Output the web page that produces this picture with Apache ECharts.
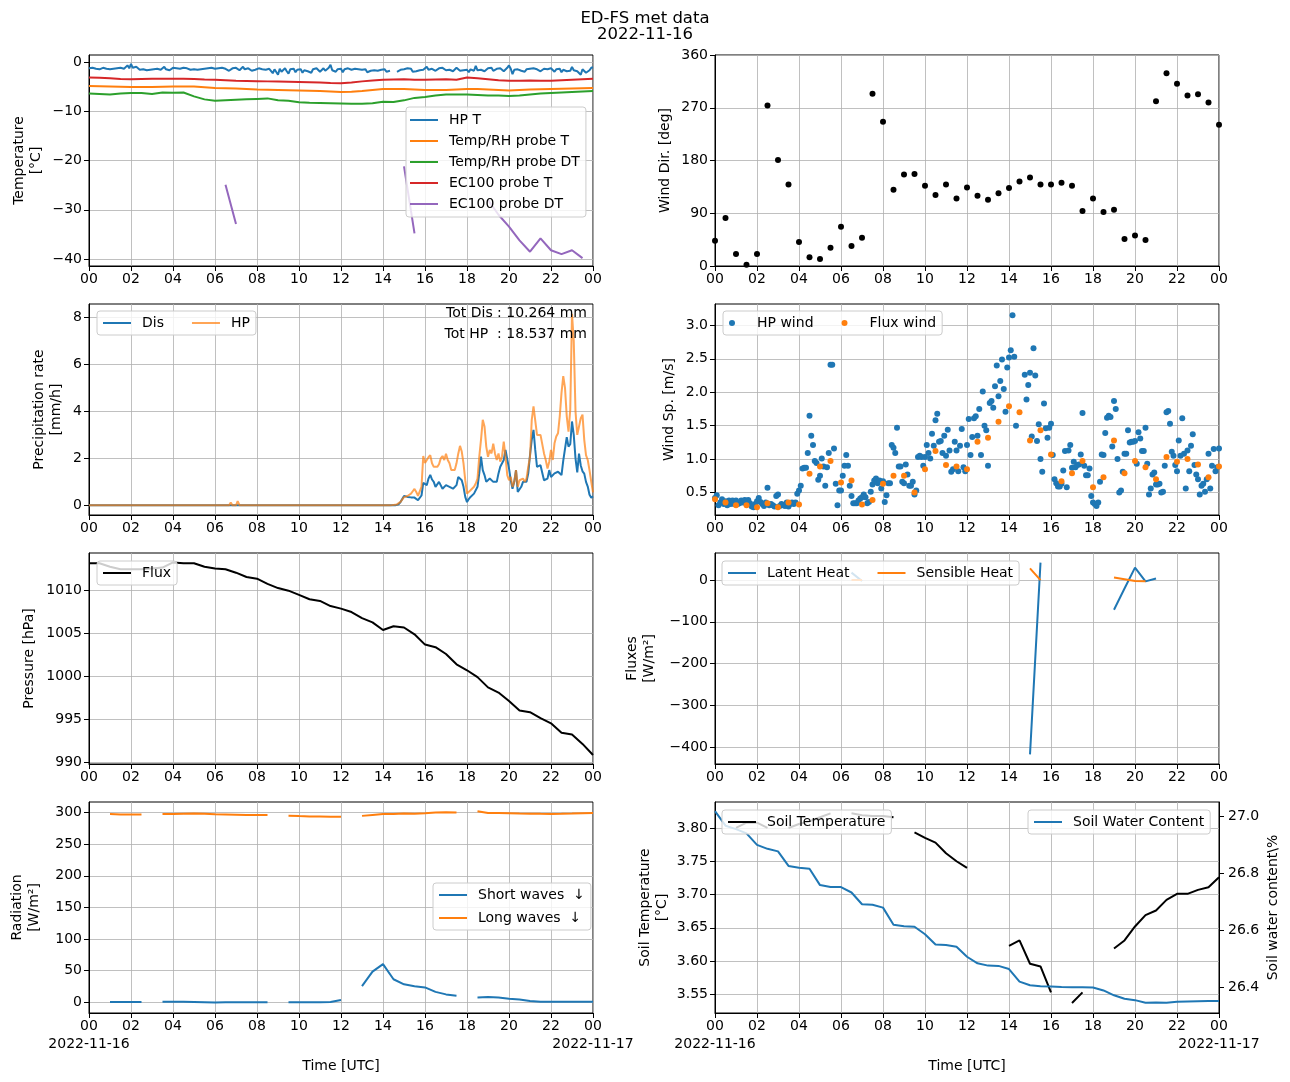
<!DOCTYPE html>
<html>
<head>
<meta charset="utf-8">
<script src="https://cdn.jsdelivr.net/npm/echarts@6/dist/echarts.min.js"></script>
<style>
  html, body { margin: 0; padding: 0; background: #fff; }
  #chart { width: 1290px; height: 1082px; }
</style>
</head>
<body>
<div id="chart"></div>
<script>
// ---- data (half-hourly unless noted) ----
const dayStart = '2022-11-16';
const dayEnd = '2022-11-17';

// HP temperature, 5-minute values (one row per hour)
const hpTemp = [
  -1.3,-1.5,-1.2,-1.6,-1.4,-1.1,-1.5,-1.3,-1.2,-1.6,-1.4,-1.2,
  -1.5,-1.1,-1.4,-1.0,-1.3,-1.6,-1.2,-0.9,-1.4,-1.1,-0.7,-1.3,
  -0.4,-1.2,-1.5,-1.0,-1.4,-1.6,-1.3,-1.5,-1.2,-1.7,-1.4,-1.6,
  -1.3,-1.5,-1.1,-1.4,-1.2,-1.6,-1.3,-1.0,-1.5,-1.3,-1.7,-1.4,
  -1.2,-1.5,-1.3,-0.9,-1.4,-1.6,-1.2,-1.5,-1.3,-1.1,-1.6,-1.4,
  -1.5,-1.2,-1.6,-1.3,-1.5,-1.1,-1.4,-1.7,-1.3,-1.5,-1.2,-1.6,
  -1.4,-1.7,-1.3,-1.5,-1.2,-1.6,-1.4,-1.3,-1.8,-1.5,-1.3,-1.6,
  -1.2,-1.5,-1.7,-1.4,-1.0,-1.5,-1.6,-1.3,-1.5,-1.8,-1.4,-1.6,
  -1.5,-1.3,-1.7,-1.5,-1.2,-1.6,-1.9,-1.4,-1.7,-2.3,-1.5,-1.8,
  -2.6,-1.4,-2.0,-1.6,-1.3,-1.9,-2.4,-1.5,-1.8,-1.4,-2.1,-1.6,
  -1.9,-1.5,-2.2,-1.7,-1.4,-1.9,-1.6,-2.2,-1.5,-1.8,-1.3,-1.7,
  -2.0,-1.6,-1.3,-1.8,-1.5,-1.2,-0.6,-1.7,-1.4,-2.0,-1.5,-1.8,
  -1.4,-2.1,-1.5,-1.8,-1.3,-0.9,-1.6,-1.9,-1.4,-1.7,-1.5,-1.9,
  -1.6,-1.9,-1.5,-2.1,-2.3,-1.8,-2.0,-1.7,-1.5,-1.8,-2.2,-1.6,
  -1.9,-1.5,-2.0,-1.6,-1.8,null,null,null,-2.0,-1.7,-1.6,-1.9,
  -1.5,-1.8,-1.3,-1.7,-1.4,-2.0,-1.6,-1.9,-1.5,-1.7,-2.1,-1.6,
  -1.3,-1.0,-1.6,-2.0,-1.4,-1.2,-1.8,-1.5,-1.3,-1.6,-1.2,-1.5,
  -1.7,-1.4,-1.6,-1.3,-1.9,-1.5,-1.2,-1.6,-1.8,-1.4,-1.7,-1.3,
  -1.6,-2.1,-1.5,-1.2,-1.8,-0.8,-1.7,-1.3,-1.6,-1.4,-1.9,-1.5,
  -1.3,-1.6,-1.2,-1.8,-1.5,-1.4,-1.7,-1.3,-1.6,-1.9,-1.5,-1.2,
  -0.7,-1.4,-2.5,-1.6,-1.9,-1.5,-1.3,-1.8,-1.6,-2.0,-1.5,-1.7,
  -1.4,-1.8,-1.3,-1.7,-1.5,-1.2,-1.9,-1.6,-1.4,-1.8,-1.5,-1.7,
  -1.3,-1.6,-2.0,-1.5,-1.8,-1.4,-2.1,-1.6,-1.3,-1.9,-1.5,-1.8,
  -1.0,-1.7,-1.4,-1.9,-1.6,-2.6,-1.5,-1.8,-2.2,-2.5,-1.7,-1.2,
  -1.1
];
const rhProbeT = [
  -4.9,-4.95,-5.0,-5.05,-5.1,-5.1,-5.1,-5.05,-5.0,-5.0,
  -5.0,-5.15,-5.3,-5.35,-5.4,-5.5,-5.6,-5.65,-5.7,-5.75,
  -5.8,-5.85,-5.9,-6.0,-6.1,-6.05,-5.9,-5.7,-5.5,-5.5,
  -5.5,-5.6,-5.7,-5.7,-5.7,-5.6,-5.5,-5.5,-5.6,-5.7,
  -5.8,-5.7,-5.6,-5.55,-5.5,-5.45,-5.4,-5.35,-5.3
];
const rhProbeDT = [
  -6.4,-6.5,-6.6,-6.4,-6.3,-6.3,-6.5,-6.2,-6.25,-6.2,
  -7.0,-7.6,-7.9,-7.8,-7.7,-7.6,-7.5,-7.4,-7.8,-7.9,
  -8.2,-8.3,-8.35,-8.4,-8.45,-8.5,-8.5,-8.4,-8.1,-8.15,
  -7.8,-7.3,-7.1,-6.8,-6.6,-6.6,-6.6,-6.7,-6.8,-6.8,
  -6.9,-6.8,-6.6,-6.4,-6.3,-6.2,-6.1,-6.0,-5.9
];
const ec100T = [
  -3.15,-3.2,-3.3,-3.45,-3.5,-3.45,-3.4,-3.4,-3.4,-3.4,
  -3.45,-3.55,-3.6,-3.7,-3.8,-3.85,-3.9,-3.95,-4.0,-4.05,
  -4.1,-4.15,-4.2,-4.3,-4.35,-4.2,-3.95,-3.75,-3.6,-3.55,
  -3.5,-3.6,-3.6,-3.55,-3.5,-3.6,-3.15,-3.3,-3.5,-3.7,
  -3.8,-3.8,-3.75,-3.8,-3.8,-3.7,-3.6,-3.5,-3.4
];
const ec100DT = [
  null,null,null,null,null,null,null,null,null,null,
  null,null,null,-24.9,-32.9,null,null,null,null,null,
  null,null,null,null,null,null,null,null,null,null,
  -21.2,-34.8,null,null,null,null,null,null,-28.0,-31.0,
  -33.4,-36.2,-38.5,-35.8,-38.2,-39.0,-38.2,-39.8,null
];

const windDir = [
  43,82,20.5,2,20.5,274,181,139,41,15,
  12,31,67,34,48,294,246,130,156,157,
  137,121,139,115,134,120,113,124,133,144,
  151,139,139,142,137,94,115,92,96,46,
  52,44.5,281,329,311,291,293,279,241
];

// precipitation: flat zero before 14:35, then 5-minute rates from 14:40
const disEarlyT = [0, 14.58];
const disEarly = [0, 0];
const hpEarlyT = [0, 6.67, 6.75, 6.83, 7.0, 7.08, 7.17, 14.33];
const hpEarly = [0, 0, 0.12, 0, 0, 0.18, 0, 0];
const precipStart = 14 + 40 / 60;
const disRate = [
  0.04,0.05,0.14,0.2,0.4,0.48,0.36,0.3,0.34,0.3,
  0.33,0.3,0.22,0.3,0.42,0.96,0.93,0.86,1.14,1.3,
  1.1,1.0,0.79,0.71,1.0,0.93,0.71,0.79,0.86,0.86,
  0.79,0.8,0.71,0.64,0.86,1.21,1.29,1.07,0.79,0.36,
  0.14,0.27,0.36,0.43,0.5,0.57,0.79,1.36,2.07,1.5,
  1.29,1.0,0.93,1.14,1.07,1.0,1.07,1.0,1.36,1.64,
  1.57,1.93,2.36,2.29,1.57,1.07,0.71,1.0,1.5,0.57,
  0.57,0.79,1.0,0.93,1.0,1.36,2.14,2.79,3.21,2.36,
  1.64,1.57,1.71,1.64,1.07,1.0,1.14,1.5,1.21,1.29,
  1.36,1.36,1.43,1.5,1.29,1.9,2.4,2.9,2.5,2.6,
  3.57,3.0,2.0,1.4,2.2,1.7,1.45,1.35,1.0,0.8,
  0.45,0.33,0.38
];
const hpRate = [
  0.04,0.04,0.15,0.2,0.35,0.42,0.4,0.43,0.5,0.6,
  0.7,0.57,0.4,0.45,0.79,2.1,1.8,1.8,2.05,2.14,
  1.79,1.64,1.57,1.64,1.75,2.0,2.1,1.93,2.2,1.93,
  1.79,1.5,1.43,1.5,1.79,2.2,2.53,2.29,1.79,1.07,
  0.5,0.5,0.64,0.71,0.79,0.93,1.14,2.07,2.79,3.64,
  3.36,2.5,2.07,2.36,2.21,2.63,2.2,1.93,2.21,1.86,
  2.07,2.71,2.07,1.29,1.07,1.21,0.79,1.0,1.5,0.79,
  1.07,1.0,1.14,1.0,1.14,1.64,2.07,3.64,4.21,4.21,
  3.0,3.07,3.0,3.04,2.21,1.93,1.57,1.86,2.36,1.93,
  2.64,2.93,3.07,3.79,4.79,5.5,5.0,3.79,3.14,4.07,
  8.15,7.0,4.0,3.0,3.0,3.71,3.86,2.79,2.14,1.93,
  1.5,1.0,0.55
];
const totDis = '10.264';
const totHp = '18.537';

// HP wind speed, 5-minute values (one row per hour)
const hpWind = [
  0.42,0.46,0.31,0.35,0.40,0.33,0.37,0.31,0.38,0.33,0.38,0.33,
  0.38,0.33,0.34,0.38,0.35,0.39,0.33,0.39,0.34,0.29,0.28,0.33,
  0.37,0.42,0.36,0.33,0.30,0.35,0.57,0.31,0.33,0.31,0.29,0.45,
  0.47,0.30,0.33,0.31,0.30,0.35,0.29,0.33,0.35,0.33,0.35,0.48,
  0.53,0.60,0.86,0.87,0.87,1.09,1.65,1.35,1.21,0.97,0.94,0.69,
  0.75,1.01,0.89,0.60,0.88,1.09,2.41,2.41,1.16,0.63,0.31,0.53,
  0.53,0.75,0.90,1.06,0.90,0.60,0.45,0.34,0.34,0.34,0.38,0.41,
  0.43,0.47,0.43,0.34,0.36,0.51,0.62,0.68,0.71,0.64,0.68,0.56,
  0.67,0.36,0.46,0.64,0.64,1.21,1.17,1.09,1.47,0.89,0.89,0.66,
  0.64,0.92,0.77,0.60,0.60,0.66,0.47,0.53,1.03,1.05,1.03,0.90,
  1.03,1.21,1.09,1.01,1.38,1.20,1.58,1.68,1.26,1.27,1.09,1.35,
  1.05,1.44,1.13,0.81,0.85,1.26,1.13,0.82,1.20,1.45,0.88,0.82,
  1.21,1.60,1.06,1.33,1.61,1.64,1.35,1.75,1.06,2.01,1.50,1.43,
  0.90,1.84,1.87,1.77,2.09,2.40,1.94,2.17,2.49,2.05,1.71,2.37,
  2.52,2.63,3.15,2.53,1.50,null,null,null,null,2.26,1.89,2.11,
  2.29,1.34,2.66,2.25,1.27,1.52,1.00,0.81,1.83,1.46,1.32,1.47,
  1.53,1.06,0.70,0.64,0.59,0.59,0.63,0.83,1.12,0.58,1.13,1.21,
  0.87,0.96,0.88,0.91,0.92,1.07,1.69,0.90,0.76,0.76,0.86,0.45,
  0.35,0.33,0.30,0.35,0.66,1.07,1.06,1.39,1.62,1.65,1.63,1.19,
  1.87,1.75,1.00,0.50,0.53,0.81,1.08,1.08,1.43,1.25,1.26,1.26,
  1.27,0.93,1.40,1.31,1.12,1.12,1.47,0.93,0.47,0.56,0.77,0.80,
  0.62,0.62,0.63,0.50,0.51,0.90,1.70,1.72,1.53,1.11,1.05,0.91,
  0.82,1.28,1.05,1.61,1.08,0.56,1.13,0.82,1.20,1.37,0.91,0.77,
  0.70,0.47,0.60,0.63,0.51,0.70,1.08,0.56,0.90,1.15,0.82,0.88,
  1.16
];
const fluxWind = [
  0.40,0.35,0.31,0.31,0.28,0.34,0.28,0.35,0.32,0.78,
  0.89,0.97,0.65,0.68,0.32,0.39,0.63,0.75,0.75,0.50,
  0.85,1.12,0.91,0.89,0.85,1.26,1.32,1.56,1.79,1.70,
  1.28,1.43,1.07,0.67,0.79,0.97,0.58,0.73,1.28,0.79,
  0.97,0.88,0.70,1.03,0.96,1.00,0.92,0.73,0.89
];

const pressure = [
  1013.2,1013.2,1012.8,1012.5,1012.5,1012.5,1012.6,1012.7,1013.3,1013.2,
  1013.2,1012.8,1012.6,1012.5,1012.1,1011.6,1011.4,1010.8,1010.3,1010.0,
  1009.5,1009.0,1008.8,1008.2,1007.9,1007.5,1006.8,1006.3,1005.4,1005.85,
  1005.7,1004.9,1003.7,1003.4,1002.6,1001.4,1000.7,999.9,998.7,998.1,
  997.1,996.0,995.8,995.1,994.5,993.4,993.2,992.1,990.8
];

const latentHeat = [
  null,null,null,null,null,null,null,null,null,null,
  null,null,null,18,-2,null,null,null,null,null,
  null,null,null,null,null,null,null,null,null,null,
  -418,42,null,null,null,null,null,null,-71,-20,
  30,-3,4,null,null,null,null,null,null
];
const sensibleHeat = [
  null,null,null,null,null,null,null,null,null,null,
  null,null,null,0,0,null,null,null,null,null,
  null,null,null,null,null,null,null,null,null,null,
  28,0,null,null,null,null,null,null,6,2,
  -2,-3,null,null,null,null,null,null,null
];

const shortWave = [
  null,null,0,0,0,0,null,0.5,0.5,0.5,
  0,-0.5,-1,-0.5,-0.5,-0.3,-0.3,-0.3,null,-0.5,
  -0.5,-0.5,-0.5,0,3,null,25,48,60,36,
  28,25,23,16,12,10,null,7,8,7,
  5,4,1.5,0.5,0.5,0.5,0.5,0.5,0.5
];
const longWave = [
  null,null,298,297.3,297.2,297.3,null,298,298,298.5,
  298.8,298.2,297.6,297.3,296.9,296.4,296.2,296.2,null,295.3,
  294.7,294.2,294.0,293.8,293.6,null,295,296.5,297.8,298,
  298.8,298.4,299.3,300.3,300.8,300.3,null,302.5,299.5,299.6,
  299.2,298.8,298.5,298.2,298.0,298.2,298.6,299.2,299.6
];

const soilTemp = [
  null,null,3.80,3.808,3.808,3.80,null,3.80,3.806,3.81,
  3.816,3.822,null,3.822,3.819,3.818,3.818,3.816,null,3.7935,
  3.785,3.778,3.762,3.75,3.74,null,null,null,3.623,3.631,
  3.596,3.592,3.553,null,3.537,3.553,null,null,3.619,3.631,
  3.652,3.669,3.676,3.692,3.701,3.701,3.707,3.711,3.726
];
const soilWater = [
  27.018,26.967,26.955,26.94,26.90,26.886,26.877,26.826,26.82,26.816,
  26.759,26.752,26.752,26.733,26.692,26.69,26.68,26.62,26.615,26.613,
  26.587,26.551,26.549,26.543,26.508,26.485,26.477,26.476,26.465,26.421,
  26.408,26.405,26.404,26.402,26.401,26.401,26.40,26.39,26.373,26.361,
  26.356,26.347,26.348,26.347,26.35,26.351,26.352,26.353,26.353
];

// ---- layout / helpers ----
const FONT = "'DejaVu Sans', sans-serif";
const C = { blue: '#1f77b4', orange: '#ff7f0e', green: '#2ca02c', red: '#d62728', purple: '#9467bd', black: '#000000' };
const COLS = [89, 715], ROWS = [55, 304, 553, 802], W = 504, H = 211;

const t30 = pressure.map((_, i) => i / 2);
const t5 = hpTemp.map((_, i) => i / 12);
const tPrecip = disRate.map((_, i) => precipStart + i / 12);
const pairs = (ts, vs) => vs.map((v, i) => [ts[i], v == null ? '-' : v]);
const hh = v => String(v % 24).padStart(2, '0');
const minus = v => (v < 0 ? '\u2212' + Math.abs(v) : String(v));

const grids = [];
for (let r = 0; r < 4; r++) for (let c = 0; c < 2; c++) {
  grids.push({ left: COLS[c], top: ROWS[r], width: W, height: H, show: true,
    borderColor: '#000', borderWidth: 1, backgroundColor: 'transparent' });
}

const txt = { color: '#000', fontSize: 14, fontFamily: FONT };

const xAxes = grids.map((_, gi) => {
  const last = gi >= 6;
  return {
    type: 'value', gridIndex: gi, min: 0, max: 24, interval: 2,
    axisLine: { show: true, onZero: false, lineStyle: { color: '#000', width: 1 } },
    axisTick: { show: true, length: 5, lineStyle: { color: '#000' } },
    axisLabel: Object.assign({}, txt, { margin: 6, showMinLabel: true, showMaxLabel: true, formatter: hh }),
    splitLine: { show: true, lineStyle: { color: '#b0b0b0', width: 0.8 } },
    name: last ? 'Time [UTC]' : '', nameLocation: 'middle', nameGap: 46,
    nameTextStyle: txt
  };
});

function yAxis(gi, o) {
  return {
    type: 'value', gridIndex: gi, min: o.min, max: o.max, position: o.right ? 'right' : 'left',
    name: o.name, nameLocation: 'middle', nameGap: o.gap, nameRotate: 90,
    nameTextStyle: Object.assign({}, txt, { lineHeight: 17 }),
    axisLine: { show: true, onZero: false, lineStyle: { color: '#000', width: 1 } },
    axisTick: { show: true, length: 5, customValues: o.ticks, lineStyle: { color: '#000' } },
    axisLabel: Object.assign({}, txt, { margin: o.right ? 9 : 7, customValues: o.ticks, formatter: o.fmt }),
    splitLine: { show: !o.noGrid, lineStyle: { color: '#b0b0b0', width: 0.8 } }
  };
}

const yAxes = [
  yAxis(0, { min: -41.4, max: 1.4, ticks: [-40, -30, -20, -10, 0], fmt: minus, name: 'Temperature\n[°C]', gap: 44 }),
  yAxis(1, { min: 0, max: 360, ticks: [0, 90, 180, 270, 360], fmt: v => String(v), name: 'Wind Dir. [deg]', gap: 41 }),
  yAxis(2, { min: -0.41, max: 8.57, ticks: [0, 2, 4, 6, 8], fmt: v => String(v), name: 'Precipitation rate\n[mm/h]', gap: 24 }),
  yAxis(3, { min: 0.164, max: 3.32, ticks: [0.5, 1.0, 1.5, 2.0, 2.5, 3.0], fmt: v => v.toFixed(1), name: 'Wind Sp. [m/s]', gap: 37 }),
  yAxis(4, { min: 989.75, max: 1014.4, ticks: [990, 995, 1000, 1005, 1010], fmt: v => String(v), name: 'Pressure [hPa]', gap: 51 }),
  yAxis(5, { min: -441, max: 65, ticks: [-400, -300, -200, -100, 0], fmt: minus, name: 'Fluxes\n[W/m²]', gap: 57 }),
  yAxis(6, { min: -17.5, max: 317, ticks: [0, 50, 100, 150, 200, 250, 300], fmt: v => String(v), name: 'Radiation\n[W/m²]', gap: 46 }),
  yAxis(7, { min: 3.522, max: 3.839, ticks: [3.55, 3.60, 3.65, 3.70, 3.75, 3.80], fmt: v => v.toFixed(2), name: 'Soil Temperature\n[°C]', gap: 44 }),
  yAxis(7, { min: 26.311, max: 27.05, ticks: [26.4, 26.6, 26.8, 27.0], fmt: v => v.toFixed(1), name: 'Soil water content\\%', gap: 46, right: true, noGrid: true })
];

function line(name, ai, yi, data, color, opacity) {
  const op = opacity == null ? 1 : opacity;
  return { name, type: 'line', xAxisIndex: ai, yAxisIndex: yi, data, showSymbol: false, symbol: 'none',
    lineStyle: { color, width: 2, opacity: op }, itemStyle: { color, opacity: op }, z: 3 };
}
function dots(name, ai, yi, data, color) {
  return { name, type: 'scatter', xAxisIndex: ai, yAxisIndex: yi, data, symbolSize: 6,
    itemStyle: { color, opacity: 1 }, z: 3 };
}

const series = [
  line('HP T', 0, 0, pairs(t5, hpTemp), C.blue),
  line('Temp/RH probe T', 0, 0, pairs(t30, rhProbeT), C.orange),
  line('Temp/RH probe DT', 0, 0, pairs(t30, rhProbeDT), C.green),
  line('EC100 probe T', 0, 0, pairs(t30, ec100T), C.red),
  line('EC100 probe DT', 0, 0, pairs(t30, ec100DT), C.purple),
  dots('Wind Dir', 1, 1, pairs(t30, windDir), C.black),
  line('Dis', 2, 2, pairs(disEarlyT, disEarly).concat(pairs(tPrecip, disRate)), C.blue),
  line('HP', 2, 2, pairs(hpEarlyT, hpEarly).concat(pairs(tPrecip, hpRate)), C.orange, 0.7),
  dots('HP wind', 3, 3, pairs(t5, hpWind).filter(p => p[1] !== '-'), C.blue),
  dots('Flux wind', 3, 3, pairs(t30, fluxWind), C.orange),
  line('Flux', 4, 4, pairs(t30, pressure), C.black),
  line('Latent Heat', 5, 5, pairs(t30, latentHeat), C.blue),
  line('Sensible Heat', 5, 5, pairs(t30, sensibleHeat), C.orange),
  line('Short waves  \u2193', 6, 6, pairs(t30, shortWave), C.blue),
  line('Long waves  \u2193', 6, 6, pairs(t30, longWave), C.orange),
  line('Soil Temperature', 7, 7, pairs(t30, soilTemp), C.black),
  line('Soil Water Content', 7, 8, pairs(t30, soilWater), C.blue)
];

function legend(names, left, top, extra) {
  return Object.assign({
    data: names, left, top, orient: 'horizontal', icon: 'rect', itemWidth: 28, itemHeight: 2, itemGap: 28,
    backgroundColor: 'rgba(255,255,255,0.8)', borderColor: '#cccccc', borderWidth: 1, borderRadius: 3,
    padding: [4, 6, 4, 6], selectedMode: false, z: 10,
    textStyle: Object.assign({}, txt, { padding: [0, 0, 0, 6], lineHeight: 16 })
  }, extra || {});
}

const legends = [
  legend(['HP T', 'Temp/RH probe T', 'Temp/RH probe DT', 'EC100 probe T', 'EC100 probe DT'], 406, 107,
    { orient: 'vertical', itemGap: 5, padding: [5, 6, 5, 4] }),
  legend(['Dis', 'HP'], 97, 311),
  legend(['HP wind', 'Flux wind'], 723, 311, { icon: 'circle', itemHeight: 6 }),
  legend(['Flux'], 97, 561),
  legend(['Latent Heat', 'Sensible Heat'], 722, 561),
  legend(['Short waves  \u2193', 'Long waves  \u2193'], 433, 883, { orient: 'vertical', itemGap: 7 }),
  legend(['Soil Temperature'], 722, 810),
  legend(['Soil Water Content'], 1028, 810)
];

// date stamps under the first and last ticks of the bottom row
const dateY = ROWS[3] + H + 31;
const dateStamps = [];
COLS.forEach(x0 => {
  dateStamps.push({ text: dayStart, x: x0 }, { text: dayEnd, x: x0 + W });
});

const chart = echarts.init(document.getElementById('chart'), null, { renderer: 'canvas' });
chart.setOption({
  animation: false,
  backgroundColor: '#ffffff',
  title: { text: 'ED-FS met data\n2022-11-16', left: 'center', top: 6,
    textStyle: { color: '#000', fontSize: 16.5, fontWeight: 'normal', fontFamily: FONT, lineHeight: 16 } },
  grid: grids,
  xAxis: xAxes,
  yAxis: yAxes,
  legend: legends,
  series,
  graphic: [
    { type: 'text', x: 587, y: 313, z: 20, style: { text: 'Tot Dis : ' + totDis + ' mm', fill: '#000',
      font: '14px ' + FONT, textAlign: 'right', textVerticalAlign: 'middle' } },
    { type: 'text', x: 587, y: 334, z: 20, style: { text: 'Tot HP  : ' + totHp + ' mm', fill: '#000',
      font: '14px ' + FONT, textAlign: 'right', textVerticalAlign: 'middle' } }
  ].concat(dateStamps.map(d => ({ type: 'text', x: d.x, y: dateY, z: 20,
    style: { text: d.text, fill: '#000', font: '14px ' + FONT, textAlign: 'center', textVerticalAlign: 'middle' } })))
});
</script>
</body>
</html>
